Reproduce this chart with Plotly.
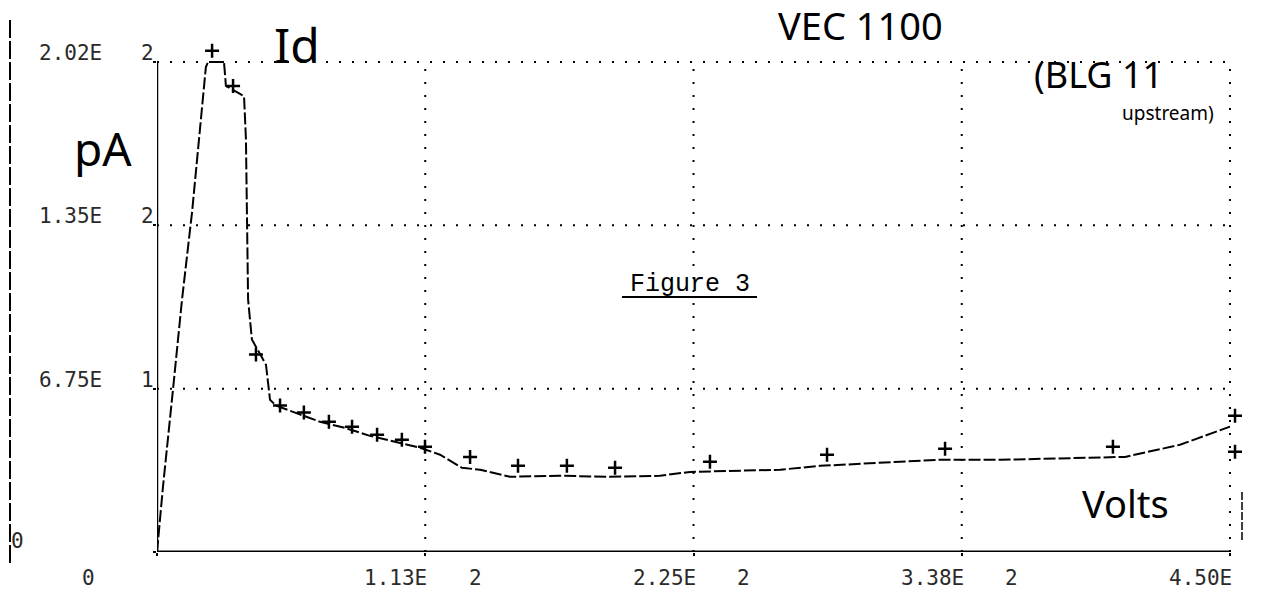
import plotly.graph_objects as go

# ---- data ----
volts = [0, 2.5, 6.7, 10.5, 14.7, 18.0, 20.5, 21.4, 28.1, 28.9, 36.5, 37.3, 38.2, 39.8,
         45.7, 47.4, 49.9, 57.9, 68.4, 78.8, 89.3, 99.8, 110.3, 118.7, 127.9, 135.5,
         148.0, 169.0, 188.7, 210.9, 223.5, 261.3, 278.0, 311.6, 327.1, 353.5, 396.7,
         406.0, 429.0, 450.0]
current = [0, 26.9, 67.1, 104.4, 140.4, 176.0, 200.4, 202.5, 202.5, 192.6, 188.4, 170.6,
           104.4, 87.8, 77.4, 62.9, 60.5, 57.6, 53.8, 51.3, 48.0, 45.6, 43.1, 40.2, 34.8,
           34.0, 31.1, 31.5, 31.1, 31.5, 33.1, 34.0, 35.6, 37.3, 38.1, 38.1, 39.3, 39.3,
           44.3, 51.8]

marker_volts = [23.1, 31.9, 41.5, 51.6, 61.6, 72.1, 81.8, 92.3, 102.7, 112.4, 131.3,
                151.4, 171.9, 192.1, 231.9, 281.0, 330.5, 400.9, 452.1, 452.1]
marker_current = [207.1, 192.6, 81.6, 60.5, 57.6, 53.8, 51.8, 48.5, 46.4, 43.5, 39.3,
                  35.6, 35.6, 34.8, 37.3, 40.2, 42.7, 43.5, 56.3, 41.4]

x_tick_vals = [0, 112.5, 225, 337.5, 450]
x_tick_mant = ["0", "1.13E", "2.25E", "3.38E", "4.50E"]
x_tick_exp = ["", "2", "2", "2", ""]

y_tick_vals = [0, 67.5, 135, 202.5]
y_tick_mant = ["0", "6.75E", "1.35E", "2.02E"]
y_tick_exp = ["", "1", "2", "2"]

X_MAX, Y_MAX = 450, 202.5

# ---- layout geometry ----
W, H = 1263, 595
L, B = 157, 43
AX_RIGHT_PX, AX_TOP_PX = 1230, 62          # pixel of X_MAX / Y_MAX
R, T = 20, 40                               # extra room so edge markers are drawn
PW, PH = W - L - R, H - T - B
x_range_max = X_MAX * PW / (AX_RIGHT_PX - L)
y_range_max = Y_MAX * PH / (H - B - AX_TOP_PX)


def pxx(xp):
    return (xp - L) / PW


def pxy(yp):
    return (H - B - yp) / PH


fig = go.Figure()
fig.add_trace(go.Scatter(x=volts, y=current, mode="lines",
                         line=dict(color="black", width=2, dash="12px,3px"),
                         hoverinfo="skip", showlegend=False))
fig.add_trace(go.Scatter(x=marker_volts, y=marker_current, mode="markers",
                         marker=dict(symbol="cross-thin", size=10,
                                     line=dict(color="black", width=2.5)),
                         cliponaxis=False, showlegend=False))

tick_font = dict(family="DejaVu Sans Mono", size=21, color="#2a2a2a")
ann = []
for v, m, e in zip(x_tick_vals, x_tick_mant, x_tick_exp):
    if m == "0":
        ann.append(dict(x=pxx(88), y=v, xref="paper", yref="y", text=m, showarrow=False,
                        xanchor="center", yanchor="middle", yshift=-26, font=tick_font))
        continue
    ann.append(dict(x=v, y=0, xref="x", yref="y", text=m, showarrow=False,
                    xanchor="right", yanchor="middle", yshift=-26, xshift=4, font=tick_font))
    if e:
        ann.append(dict(x=v, y=0, xref="x", yref="y", text=e, showarrow=False,
                        xanchor="center", yanchor="middle", yshift=-26, xshift=50, font=tick_font))

for v, m, e in zip(y_tick_vals, y_tick_mant, y_tick_exp):
    if m == "0":
        ann.append(dict(x=pxx(17), y=v, xref="paper", yref="y", text=m, showarrow=False,
                        xanchor="center", yanchor="middle", yshift=11, font=tick_font))
        continue
    ann.append(dict(x=pxx(104), y=v, xref="paper", yref="y", text=m, showarrow=False,
                    xanchor="right", yanchor="middle", yshift=9, font=tick_font))
    ann.append(dict(x=pxx(147), y=v, xref="paper", yref="y", text=e, showarrow=False,
                    xanchor="center", yanchor="middle", yshift=9, font=tick_font))

hand = dict(family="Noto Sans", color="black")
notes = [
    dict(x=pxx(860), y=pxy(25), text="VEC 1100", font=dict(size=38, **hand)),
    dict(x=pxx(297), y=pxy(44), text="Id", font=dict(size=48, **hand)),
    dict(x=pxx(103), y=pxy(148), text="pA", font=dict(size=46, **hand)),
    dict(x=pxx(1098), y=pxy(74), text="(BLG 11", font=dict(size=36, **hand)),
    dict(x=pxx(1168), y=pxy(113), text="upstream)", font=dict(size=19, **hand)),
    dict(x=pxx(1125), y=pxy(503), text="Volts", font=dict(size=38, **hand)),
    dict(x=pxx(690), y=pxy(284), text="Figure 3",
         font=dict(family="Liberation Mono", size=25, color="black")),
]
for a in notes:
    a.update(xref="paper", yref="paper", showarrow=False, xanchor="center", yanchor="middle")
ann += notes

dot = dict(color="black", width=2, dash="2px,11px")
shapes = []
for v in x_tick_vals[1:]:
    shapes.append(dict(type="line", xref="x", yref="y", x0=v, x1=v, y0=0, y1=Y_MAX,
                       line=dot, layer="below"))
for v in y_tick_vals[1:]:
    shapes.append(dict(type="line", xref="x", yref="y", x0=0, x1=X_MAX, y0=v, y1=v,
                       line=dot, layer="below"))
shapes += [
    dict(type="line", xref="x", yref="y", x0=0, x1=0, y0=0, y1=Y_MAX,
         line=dict(color="black", width=2.5)),
    dict(type="line", xref="x", yref="y", x0=0, x1=X_MAX, y0=0, y1=0,
         line=dict(color="black", width=3)),
    dict(type="line", xref="paper", yref="paper", x0=pxx(622), x1=pxx(757), y0=pxy(297), y1=pxy(297),
         line=dict(color="black", width=2)),
    dict(type="line", xref="paper", yref="paper", x0=pxx(10), x1=pxx(10), y0=pxy(20), y1=pxy(564),
         line=dict(color="black", width=2, dash="18px,3px")),
    dict(type="line", xref="paper", yref="paper", x0=pxx(1242), x1=pxx(1242), y0=pxy(492), y1=pxy(540),
         line=dict(color="black", width=1.5, dash="8px,2px")),
]

fig.update_layout(
    width=W, height=H,
    margin=dict(l=L, r=R, t=T, b=B),
    paper_bgcolor="white", plot_bgcolor="white",
    annotations=ann, shapes=shapes, showlegend=False,
    xaxis=dict(range=[0, x_range_max], tickvals=x_tick_vals, showticklabels=False,
               showgrid=False, showline=False, zeroline=False,
               ticks="outside", ticklen=3, tickcolor="black", tickwidth=2),
    yaxis=dict(range=[0, y_range_max], tickvals=y_tick_vals, showticklabels=False,
               showgrid=False, showline=False, zeroline=False,
               ticks="outside", ticklen=3, tickcolor="black", tickwidth=2),
)

fig.write_html("out.html")
